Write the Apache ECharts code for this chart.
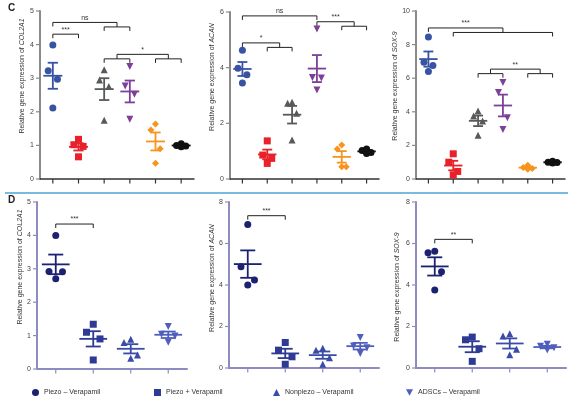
<!DOCTYPE html>
<html>
<head>
<meta charset="utf-8">
<script src="https://cdn.jsdelivr.net/npm/echarts@6/dist/echarts.min.js"></script>
<style>html,body{margin:0;padding:0;background:#fff}#main{width:573px;height:396px}</style>
</head>
<body>
<div id="main"></div>
<script>
// group names (panel D legend)
var legendNames = ['Piezo – Verapamil', 'Piezo + Verapamil', 'Nonpiezo – Verapamil', 'ADSCs – Verapamil'];

// panel C, 6 groups, 4 replicates each
var col2a1C = [[3.99, 3.22, 2.97, 2.11], [1.18, 1.02, 0.97, 0.66], [3.25, 2.95, 2.75, 1.75], [3.35, 2.77, 2.52, 1.78], [1.64, 1.46, 0.90, 0.47], [1.05, 1.00, 0.98, 0.96]];
var acanC = [[4.63, 3.98, 3.75, 3.45], [1.37, 0.86, 0.74, 0.56], [2.76, 2.72, 2.36, 1.40], [5.39, 3.65, 3.63, 3.20], [1.22, 1.08, 0.44, 0.44], [1.08, 1.02, 0.95, 0.92]];
var sox9C = [[8.45, 6.95, 6.75, 6.40], [1.50, 1.00, 0.45, 0.25], [4.05, 3.75, 3.45, 2.60], [5.75, 5.15, 3.65, 2.95], [0.82, 0.68, 0.62, 0.58], [1.05, 1.00, 0.98, 0.95]];

// panel D, 4 groups
var col2a1D = [[4.00, 2.92, 2.91, 2.70], [1.34, 1.10, 0.90, 0.27], [0.89, 0.79, 0.42, 0.32], [1.27, 1.04, 0.99, 0.80]];
var acanD = [[6.91, 4.88, 4.24, 4.00], [1.23, 0.86, 0.54, 0.18], [0.95, 0.85, 0.50, 0.18], [1.47, 1.06, 0.98, 0.70]];
var sox9D = [[5.63, 5.55, 4.64, 3.76], [1.49, 1.36, 0.93, 0.32], [1.65, 1.54, 0.90, 0.64], [1.15, 1.05, 0.97, 0.87]];

// y axis max / step per chart
var yMaxC = [5, 6, 10], yStepC = [1, 2, 2];
var yMaxD = [5, 8, 8], yStepD = [1, 2, 2];

// significance brackets: [leftFrom, leftTo, rightFrom, rightTo, height, label]
var col2a1CStats = [[0, 0, 2, 3, 4.66, 'ns'], [0, 0, 1, 1, 4.31, '***'], [2, 3, 4, 5, 3.71, '*']];
var acanCStats = [[0, 0, 3, 3, 5.86, 'ns'], [3, 3, 4, 5, 5.65, '***'], [0, 0, 1, 2, 4.89, '*']];
var sox9CStats = [[0, 0, 1, 5, 8.99, '***'], [2, 3, 4, 5, 6.54, '**']];
var col2a1DStats = [[0, 0, 1, 1, 4.34, '***']];
var acanDStats = [[0, 0, 1, 1, 7.34, '***']];
var sox9DStats = [[0, 0, 1, 1, 6.20, '**']];

var FONT = 'Liberation Sans, Arial, sans-serif';
var DOWN = 'path://M0,0 L10,0 L5,9 Z';
var colorsC = ['#3853a4', '#e8212a', '#58595b', '#7e3f98', '#f7941d', '#111111'];
var symbolsC = ['circle', 'rect', 'triangle', DOWN, 'diamond', 'circle'];
var colorsD = ['#1c2272', '#2e3a94', '#3a4ca8', '#4f5fbb'];
var symbolsD = ['circle', 'rect', 'triangle', DOWN];
var jitter = [0, -0.18, 0.18, 0];

function mean(a) {
    var s = 0;
    for (var i = 0; i < a.length; i++) s += a[i];
    return s / a.length;
}
function sem(a) {
    var m = mean(a), s = 0;
    for (var i = 0; i < a.length; i++) s += (a[i] - m) * (a[i] - m);
    return Math.sqrt(s / (a.length - 1)) / Math.sqrt(a.length);
}

function semItem(params, api) {
    var i = api.value(0), m = api.value(1), s = api.value(2);
    var c = api.coord([i, m]), top = api.coord([i, m + s]), bot = api.coord([i, m - s]);
    var band = api.size([1, 0])[0];
    var hw = band * 0.37, cw = band * 0.2;
    var st = {stroke: api.visual('color'), lineWidth: 1.8, fill: null};
    return {type: 'group', children: [
        {type: 'line', shape: {x1: c[0] - hw, y1: c[1], x2: c[0] + hw, y2: c[1]}, style: st},
        {type: 'line', shape: {x1: c[0], y1: top[1], x2: c[0], y2: bot[1]}, style: st},
        {type: 'line', shape: {x1: c[0] - cw, y1: top[1], x2: c[0] + cw, y2: top[1]}, style: st},
        {type: 'line', shape: {x1: c[0] - cw, y1: bot[1], x2: c[0] + cw, y2: bot[1]}, style: st}
    ]};
}

function bracketRender(stats) {
    return function(params, api) {
        var s = stats[params.dataIndex];
        var gap = 4.5, tick = 4;
        var yTop = api.coord([0, s[4]])[1];
        var segs = [], mids = [];
        [[s[0], s[1]], [s[2], s[3]]].forEach(function(r) {
            var a = api.coord([r[0], 0])[0], b = api.coord([r[1], 0])[0], m = (a + b) / 2;
            mids.push(m);
            if (r[0] === r[1]) {
                segs.push([m, yTop, m, yTop + tick]);
            } else {
                segs.push([m, yTop, m, yTop + gap]);
                segs.push([a, yTop + gap, b, yTop + gap]);
                segs.push([a, yTop + gap, a, yTop + gap + tick]);
                segs.push([b, yTop + gap, b, yTop + gap + tick]);
            }
        });
        segs.push([mids[0], yTop, mids[1], yTop]);
        var children = segs.map(function(q) {
            return {type: 'line', shape: {x1: q[0], y1: q[1], x2: q[2], y2: q[3]}, style: {stroke: '#222', lineWidth: 1}};
        });
        children.push({type: 'text', x: (mids[0] + mids[1]) / 2, y: yTop - 1,
            style: {text: s[5], fontSize: 7, fontFamily: FONT, fill: '#333', align: 'center', verticalAlign: 'bottom'}});
        return {type: 'group', children: children};
    };
}

// axis tick marks, x under each group, y left of each label
function tickRender(dir, color) {
    return function(params, api) {
        var v = api.value(0), p;
        if (dir === 'x') {
            p = api.coord([v, 0]);
            return {type: 'line', shape: {x1: p[0], y1: p[1], x2: p[0], y2: p[1] + 4.5}, style: {stroke: color, lineWidth: 1.2}};
        }
        p = api.coord([-0.5, v]);
        return {type: 'line', shape: {x1: p[0] - 4, y1: p[1], x2: p[0], y2: p[1]}, style: {stroke: color, lineWidth: 1.2}};
    };
}

var option = {animation: false, grid: [], xAxis: [], yAxis: [], series: [], legend: [], graphic: []};

function addPanel(k, box, vals, colors, symbols, names, yMax, yStep, stats, xColor, yColor, axW) {
    var groupIdx = vals.map(function(g, i) { return i; });
    var yTicks = [];
    for (var t = 0; t <= yMax; t += yStep) yTicks.push(t);
    option.grid.push({left: box[0], top: box[1], width: box[2], height: box[3]});
    option.xAxis.push({
        type: 'value', gridIndex: k, min: -0.5, max: vals.length - 0.5, interval: 1,
        axisLine: {show: true, onZero: false, lineStyle: {color: xColor, width: axW}},
        axisTick: {show: false}, axisLabel: {show: false}, splitLine: {show: false}
    });
    option.yAxis.push({
        type: 'value', gridIndex: k, min: 0, max: yMax, interval: yStep,
        axisLine: {show: true, onZero: false, lineStyle: {color: yColor, width: 2}},
        axisTick: {show: false},
        axisLabel: {fontSize: 7, color: '#444', margin: 6, fontFamily: FONT},
        splitLine: {show: false}
    });
    vals.forEach(function(g, i) {
        option.series.push({
            type: 'scatter', name: names[i], xAxisIndex: k, yAxisIndex: k,
            symbol: symbols[i], symbolSize: 7,
            itemStyle: {color: colors[i], opacity: 1}, z: 2,
            data: g.map(function(v, j) { return [i + jitter[j], v]; })
        });
    });
    option.series.push({
        type: 'custom', xAxisIndex: k, yAxisIndex: k, renderItem: semItem, z: 3, silent: true,
        data: vals.map(function(g, i) { return {value: [i, mean(g), sem(g)], itemStyle: {color: colors[i]}}; })
    });
    option.series.push({
        type: 'custom', xAxisIndex: k, yAxisIndex: k, renderItem: bracketRender(stats), z: 4, silent: true,
        data: stats.map(function(s) { return s.slice(0, 5); })
    });
    option.series.push({
        type: 'custom', xAxisIndex: k, yAxisIndex: k, renderItem: tickRender('x', xColor), z: 1, silent: true, clip: false,
        data: groupIdx.map(function(i) { return [i]; })
    });
    option.series.push({
        type: 'custom', xAxisIndex: k, yAxisIndex: k, renderItem: tickRender('y', yColor), z: 1, silent: true, clip: false,
        data: yTicks.map(function(v) { return [v]; })
    });
}

var cNames = function(p) { return [0, 1, 2, 3, 4, 5].map(function(i) { return p + i; }); };

addPanel(0, [40, 11, 154, 168], col2a1C, colorsC, symbolsC, cNames('c1-'), yMaxC[0], yStepC[0], col2a1CStats, '#333', '#8a8a8a', 1.5);
addPanel(1, [230, 12, 149, 167], acanC, colorsC, symbolsC, cNames('c2-'), yMaxC[1], yStepC[1], acanCStats, '#333', '#8a8a8a', 1.5);
addPanel(2, [416, 11, 149, 168], sox9C, colorsC, symbolsC, cNames('c3-'), yMaxC[2], yStepC[2], sox9CStats, '#333', '#8a8a8a', 1.5);
addPanel(3, [37, 202, 150, 167], col2a1D, colorsD, symbolsD, legendNames, yMaxD[0], yStepD[0], col2a1DStats, '#8c8cc0', '#8c8cc0', 2);
addPanel(4, [229, 202, 150, 166], acanD, colorsD, symbolsD, legendNames, yMaxD[1], yStepD[1], acanDStats, '#8c8cc0', '#8c8cc0', 2);
addPanel(5, [416, 202, 150, 166], sox9D, colorsD, symbolsD, legendNames, yMaxD[2], yStepD[2], sox9DStats, '#8c8cc0', '#8c8cc0', 2);

// legend, one entry each
var legendX = [27, 149, 268, 401];
legendNames.forEach(function(n, i) {
    option.legend.push({
        data: [n], left: legendX[i], top: 384, itemWidth: 7, itemHeight: 7,
        selectedMode: false, textStyle: {fontSize: 7, color: '#333', fontFamily: FONT}
    });
});

// rotated y axis titles
var axisTitles = [[22, 76, 'COL2A1'], [212, 77, 'ACAN'], [395, 86, 'SOX-9'], [20, 267, 'COL2A1'], [212, 278, 'ACAN'], [397, 287, 'SOX-9']];
axisTitles.forEach(function(t) {
    option.graphic.push({
        type: 'text', x: t[0], y: t[1], rotation: Math.PI / 2,
        style: {text: 'Relative gene expression of {i|' + t[2] + '}', fontSize: 7, fontFamily: FONT, fill: '#333',
            align: 'center', verticalAlign: 'middle', rich: {i: {fontStyle: 'italic', fontSize: 7, fontFamily: FONT}}}
    });
});
option.graphic.push({type: 'text', x: 8, y: 3, style: {text: 'C', fontSize: 10, fontWeight: 'bold', fontFamily: FONT, fill: '#222'}});
option.graphic.push({type: 'text', x: 8, y: 195, style: {text: 'D', fontSize: 10, fontWeight: 'bold', fontFamily: FONT, fill: '#222'}});
option.graphic.push({type: 'line', shape: {x1: 5, y1: 193, x2: 568, y2: 193}, style: {stroke: '#4ba3d6', lineWidth: 1.5}});

var myChart = echarts.init(document.getElementById('main'));
myChart.setOption(option);
</script>
</body>
</html>
